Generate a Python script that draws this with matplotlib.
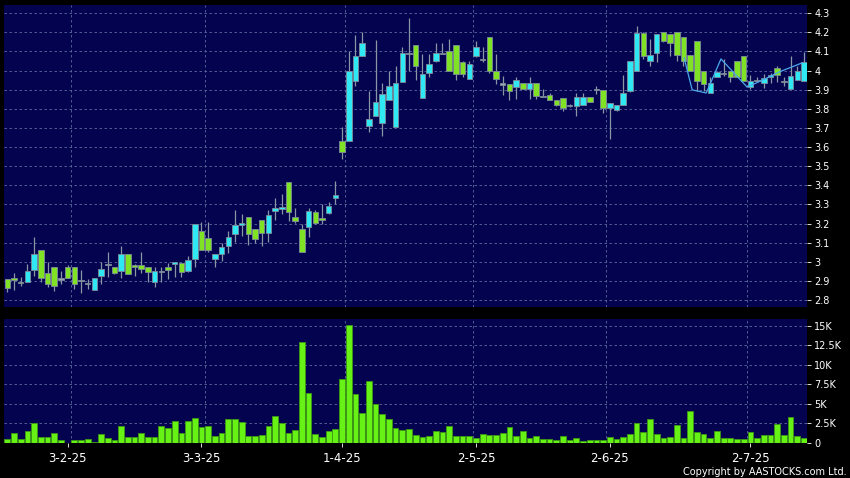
import matplotlib
matplotlib.use("Agg")
import matplotlib.pyplot as plt
import numpy as np

# daily candles (open, high, low, close), one per trading day
opens = [2.91, 2.915, 2.895, 2.895, 2.955, 3.06, 2.94, 2.97, 2.91, 2.975,
         2.975, 2.90, 2.885, 2.85, 2.925, 2.985, 2.97, 2.95, 3.04, 2.982,
         2.985, 2.975, 2.895, 2.95, 2.975, 2.99, 2.995, 2.95, 3.015, 3.16,
         3.125, 3.016, 3.038, 3.082, 3.146, 3.19, 3.235, 3.17, 3.216, 3.148,
         3.267, 3.277, 3.418, 3.235, 3.169, 3.18, 3.258, 3.227, 3.256, 3.336,
         3.634, 3.634, 3.944, 4.075, 3.712, 3.761, 3.724, 3.846, 3.703, 3.942,
         4.09, 4.134, 3.855, 3.99, 4.052, 4.09, 4.10, 4.134, 4.043, 3.954,
         4.075, 4.06, 4.174, 4.00, 3.93, 3.93, 3.913, 3.933, 3.904, 3.933,
         3.866, 3.872, 3.846, 3.855, 3.817, 3.813, 3.822, 3.864, 3.90, 3.90,
         3.805, 3.794, 3.822, 3.895, 4.00, 4.197, 4.052, 4.092, 4.20, 4.19,
         4.20, 4.174, 4.083, 4.153, 4.00, 3.883, 3.965, 3.987, 4.00, 4.052,
         4.075, 3.913, 3.95, 3.935, 3.965, 4.012, 3.942, 3.904, 3.953, 3.948]
highs = [2.91, 2.94, 2.92, 2.99, 3.13, 3.06, 3.00, 2.97, 2.95, 2.985,
         2.975, 2.955, 2.91, 2.915, 3.00, 3.05, 2.975, 3.08, 3.04, 2.99,
         3.05, 2.975, 2.975, 2.975, 2.995, 3.00, 2.995, 3.03, 3.20, 3.21,
         3.21, 3.04, 3.10, 3.162, 3.27, 3.25, 3.235, 3.17, 3.216, 3.27,
         3.336, 3.357, 3.418, 3.28, 3.20, 3.28, 3.27, 3.30, 3.31, 3.423,
         3.703, 4.104, 4.186, 4.20, 3.895, 4.16, 3.935, 4.00, 4.026, 4.125,
         4.273, 4.134, 4.087, 4.087, 4.144, 4.144, 4.165, 4.134, 4.052, 4.05,
         4.153, 4.122, 4.174, 4.087, 3.973, 3.93, 3.965, 3.933, 3.965, 3.933,
         3.904, 3.883, 3.846, 3.855, 3.825, 3.883, 3.883, 3.864, 3.92, 3.90,
         3.83, 3.822, 3.977, 4.052, 4.235, 4.20, 4.165, 4.19, 4.20, 4.19,
         4.20, 4.174, 4.083, 4.153, 4.00, 3.965, 4.00, 4.06, 4.00, 4.052,
         4.075, 3.975, 3.965, 3.98, 3.99, 4.025, 3.965, 4.075, 4.026, 4.095]
lows = [2.84, 2.85, 2.875, 2.895, 2.925, 2.895, 2.87, 2.845, 2.885, 2.915,
        2.86, 2.835, 2.86, 2.85, 2.885, 2.92, 2.935, 2.915, 2.935, 2.925,
        2.94, 2.895, 2.87, 2.895, 2.91, 2.92, 2.92, 2.945, 2.97, 3.06,
        3.05, 2.975, 3.005, 3.047, 3.105, 3.134, 3.09, 3.096, 3.08, 3.105,
        3.22, 3.25, 3.214, 3.205, 3.049, 3.127, 3.20, 3.20, 3.25, 3.30,
        3.54, 3.634, 3.92, 4.075, 3.68, 3.761, 3.66, 3.846, 3.703, 3.942,
        4.00, 3.953, 3.855, 3.965, 4.043, 4.09, 4.00, 3.953, 3.965, 3.954,
        4.07, 4.043, 3.99, 3.93, 3.87, 3.848, 3.85, 3.904, 3.85, 3.85,
        3.866, 3.846, 3.813, 3.79, 3.81, 3.76, 3.822, 3.834, 3.88, 3.78,
        3.643, 3.79, 3.822, 3.89, 4.00, 4.06, 4.026, 4.043, 4.15, 4.075,
        4.052, 4.026, 4.00, 3.895, 3.895, 3.883, 3.965, 3.97, 3.94, 3.965,
        3.948, 3.905, 3.94, 3.91, 3.935, 3.94, 3.92, 3.904, 3.953, 3.948]
closes = [2.865, 2.905, 2.89, 2.95, 3.04, 2.915, 2.885, 2.875, 2.91, 2.915,
          2.885, 2.90, 2.885, 2.915, 2.96, 2.985, 2.94, 3.04, 2.935, 2.975,
          2.96, 2.945, 2.95, 2.95, 2.955, 3.00, 2.945, 3.01, 3.20, 3.06,
          3.06, 3.038, 3.078, 3.127, 3.19, 3.205, 3.146, 3.117, 3.148, 3.247,
          3.28, 3.288, 3.261, 3.214, 3.049, 3.267, 3.204, 3.216, 3.29, 3.347,
          3.573, 4.00, 4.075, 4.144, 3.747, 3.834, 3.88, 3.92, 3.935, 4.09,
          4.09, 4.022, 3.98, 4.033, 4.09, 4.09, 4.00, 3.982, 3.982, 4.033,
          4.122, 4.06, 4.00, 3.956, 3.93, 3.892, 3.953, 3.904, 3.933, 3.866,
          3.866, 3.846, 3.822, 3.803, 3.817, 3.864, 3.864, 3.834, 3.90, 3.803,
          3.83, 3.822, 3.881, 4.052, 4.197, 4.075, 4.083, 4.19, 4.153, 4.143,
          4.083, 4.052, 4.00, 3.944, 3.93, 3.933, 3.991, 3.987, 3.965, 3.965,
          3.948, 3.944, 3.95, 3.96, 3.978, 3.978, 3.942, 3.974, 4.00, 4.043]

# volume in thousands of shares
volumes = [0.55, 1.28, 0.51, 1.49, 2.6, 0.72, 0.81, 1.23, 0.43, 0.04,
           0.38, 0.43, 0.47, 0.17, 1.1, 0.6, 0.43, 2.2, 0.81, 0.72,
           1.32, 0.77, 0.81, 2.13, 1.96, 2.85, 1.32, 2.8, 3.23, 2.0,
           2.13, 0.85, 1.32, 3.06, 3.06, 2.64, 0.94, 0.94, 1.02, 2.17,
           3.49, 2.51, 1.23, 1.7, 12.98, 6.43, 1.1, 0.72, 1.57, 1.83,
           8.13, 15.1, 6.21, 3.79, 7.91, 4.98, 3.74, 3.06, 1.91, 1.72,
           1.83, 1.02, 0.72, 0.94, 1.57, 1.36, 2.17, 0.85, 0.94, 0.94,
           0.64, 1.15, 0.98, 1.02, 1.32, 2.04, 0.85, 1.57, 0.64, 0.94,
           0.47, 0.55, 0.43, 0.94, 0.43, 0.64, 0.3, 0.34, 0.38, 0.38,
           0.72, 0.51, 0.72, 1.15, 2.55, 1.45, 3.1, 1.1, 0.64, 0.81,
           2.26, 0.64, 4.04, 1.45, 1.19, 0.6, 1.57, 0.64, 0.64, 0.47,
           0.47, 1.45, 0.64, 1.02, 0.98, 2.43, 0.98, 3.36, 0.89, 0.68]

# thin overlay line near the end of the chart
line_x = [101.1, 102.3, 104.4, 106.6, 110.5, 112.8, 115.3, 118.7]
line_y = [4.066, 3.899, 3.883, 4.061, 3.914, 3.95, 3.993, 4.04]

date_pos = [9, 29, 50, 70, 90, 111]
date_labels = ['3-2-25', '3-3-25', '1-4-25', '2-5-25', '2-6-25', '2-7-25']
grid_x = [9.5, 29.5, 50.5, 69.5, 89.5, 110.5]

price_ticks = np.round(np.arange(2.8, 4.31, 0.1), 1)
vol_ticks = [0, 2.5, 5, 7.5, 10, 12.5, 15]
vol_labels = ['0', '2.5K', '5K', '7.5K', '10K', '12.5K', '15K']

NAVY = '#03034f'
CYAN = '#30e8f4'
GREEN = '#80e224'
DOJI = '#9aa6b4'
WICK = '#8a96a6'
GRID = '#5d6a9e'

o = np.array(opens); h = np.array(highs); l = np.array(lows); c = np.array(closes)
x = np.arange(len(o))

fig = plt.figure(figsize=(8.5, 4.78), dpi=100, facecolor='black')
ax = fig.add_axes([0.0047, 0.3584, 0.9451, 0.6311])
axv = fig.add_axes([0.0047, 0.0732, 0.9451, 0.2588])

for a in (ax, axv):
    a.set_facecolor(NAVY)
    for s in a.spines.values():
        s.set_visible(False)
    a.yaxis.tick_right()
    a.tick_params(axis='y', colors='white', labelsize=7, length=3, width=0.6, pad=2)
    a.set_xlim(-0.5, len(o) - 0.5)
    for gx in grid_x:
        a.axvline(gx, color=GRID, lw=0.6, ls=(0, (3, 3)), zorder=0)

# price panel
ax.set_ylim(2.765, 4.343)
ax.set_yticks(price_ticks)
ax.set_yticklabels([f'{t:g}' for t in price_ticks])
for t in price_ticks:
    ax.axhline(t, color=GRID, lw=0.6, ls=(0, (3, 3)), zorder=0)
ax.set_xticks([])

up = c > o + 0.002
down = c < o - 0.002
flat = ~(up | down)
colors = np.where(up, CYAN, np.where(down, GREEN, DOJI))
ax.vlines(x, l, h, color=WICK, lw=0.9, zorder=2)
body_bot = np.minimum(o, c)
body_h = np.maximum(np.abs(c - o), 0.006)
body_bot = np.where(flat, (o + c) / 2 - 0.003, body_bot)
ax.bar(x, body_h, bottom=body_bot, width=0.82, color=colors,
       edgecolor='#7d8a99', linewidth=0.6, zorder=3)

ax.plot(line_x, line_y, color='#4aa8ee', lw=0.9, zorder=4)

# volume panel
axv.bar(x, volumes, width=0.86, color='#66f214', edgecolor='#3d9a12',
        linewidth=0.6, zorder=3)
axv.set_ylim(0, 15.82)
axv.set_yticks(vol_ticks)
axv.set_yticklabels(vol_labels)
for t in vol_ticks[1:]:
    axv.axhline(t, color=GRID, lw=0.6, ls=(0, (3, 3)), zorder=0)
axv.set_xticks(date_pos)
axv.set_xticklabels(date_labels)
axv.tick_params(axis='x', colors='white', labelsize=8.5, length=3, width=0.6,
                pad=3.5, direction='out')

fig.text(0.9965, 0.013, 'Copyright by AASTOCKS.com Ltd.', color='white',
         fontsize=7, ha='right', va='center')

plt.savefig('out.png', dpi=100, facecolor='black')
